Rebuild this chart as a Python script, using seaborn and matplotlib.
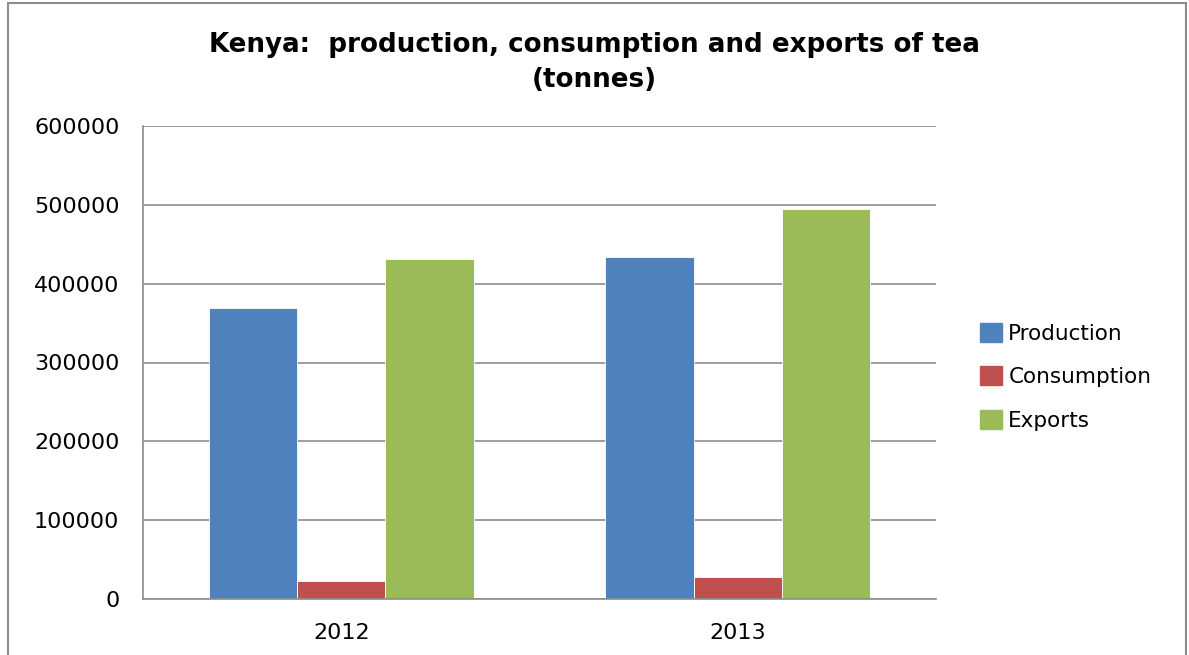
import pandas as pd
import matplotlib.pyplot as plt
import matplotlib.patches as mpatches
import seaborn as sns

# Datos (toneladas)
years = ['2012', '2013']
series = ['Production', 'Consumption', 'Exports']
production = [369000, 434000]
consumption = [22500, 27500]
exports = [431000, 494500]
colors = ['#4F81BD', '#C0504D', '#9BBB59']

df = pd.DataFrame({
    'Year': years * 3,
    'Series': [s for s in series for _ in years],
    'Tonnes': production + consumption + exports,
})

sns.set_style('white')
plt.rcParams['font.family'] = ['DejaVu Sans']
plt.rcParams['text.color'] = 'black'
plt.rcParams['xtick.color'] = 'black'
plt.rcParams['ytick.color'] = 'black'

fig = plt.figure(figsize=(11.89, 6.55), dpi=100)
ax = fig.add_axes([143 / 1189, 1 - 599 / 655, 793 / 1189, 473 / 655])

sns.barplot(data=df, x='Year', y='Tonnes', hue='Series', hue_order=series,
            palette=colors, width=0.668, saturation=1, ax=ax,
            edgecolor='white', linewidth=0.6, legend=True)

ax.set_ylim(0, 600000)
ax.set_xlim(-0.5, 1.5)
ax.set_yticks(range(0, 600001, 100000))
ax.yaxis.grid(True, color='#8C8C8C', linewidth=1.2)
ax.set_axisbelow(True)
ax.set_xlabel('')
ax.set_ylabel('')
for s in ['top', 'right']:
    ax.spines[s].set_visible(False)
for s in ['left', 'bottom']:
    ax.spines[s].set_color('#8C8C8C')
    ax.spines[s].set_linewidth(1.2)
ax.tick_params(axis='y', labelsize=16, pad=17, length=0)
ax.tick_params(axis='x', labelsize=16, pad=17, length=0)

fig.text(0.5, 1 - 45 / 655, 'Kenya:  production, consumption and exports of tea',
         ha='center', va='center', fontsize=18.8, fontweight='bold')
fig.text(0.5, 1 - 80 / 655, '(tonnes)', ha='center', va='center',
         fontsize=18.8, fontweight='bold')

handles = [mpatches.Patch(color=c) for c in colors]
ax.legend(handles, series, loc='center left', bbox_to_anchor=(818 / 793, 0.47),
          frameon=False, fontsize=15.5, handlelength=1.0, handleheight=1.0,
          handletextpad=0.3, labelspacing=1.05)

# marco del gráfico
fig.patches.append(mpatches.Rectangle((8 / 1189, -0.01), 1178 / 1189, 1 - 3 / 655 + 0.01,
                                      transform=fig.transFigure, fill=False,
                                      edgecolor='#8C8C8C', linewidth=1.5))

fig.savefig('out.png', dpi=100)
